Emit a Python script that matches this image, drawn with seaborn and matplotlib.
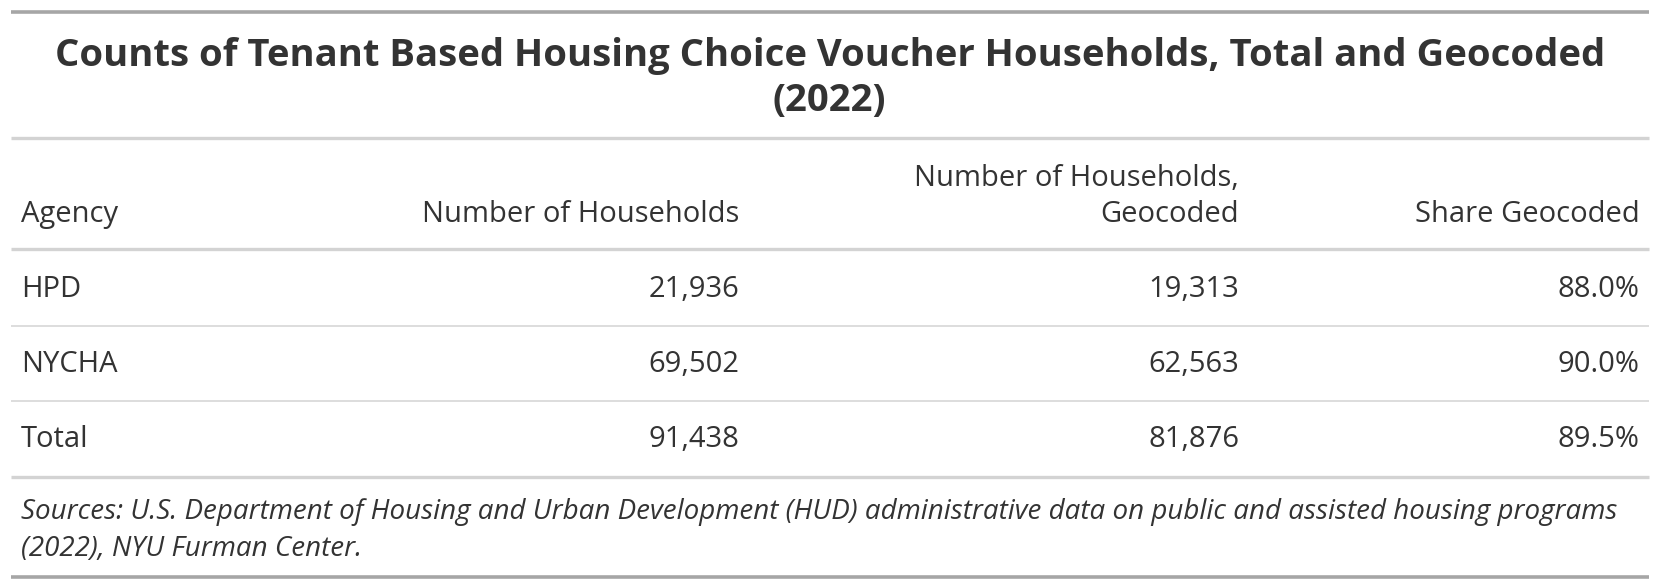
import matplotlib
matplotlib.use("Agg")
import matplotlib.pyplot as plt
import seaborn as sns

# data
agencies = ["HPD", "NYCHA", "Total"]
households = [21936, 69502, 91438]
geocoded = [19313, 62563, 81876]
share = [88.0, 90.0, 89.5]
headers = ["Agency", "Number of Households", "Number of Households,\nGeocoded", "Share Geocoded"]
title = "Counts of Tenant Based Housing Choice Voucher Households, Total and Geocoded\n(2022)"
source = ("Sources: U.S. Department of Housing and Urban Development (HUD) administrative data on public and assisted housing programs\n"
          "(2022), NYU Furman Center.")

sns.set_theme(style="white")
plt.rcParams["font.family"] = ["Open Sans", "DejaVu Sans"]

W, H = 1660, 588
s = 1.059  # layout measured on a 1567px-wide view
fig = plt.figure(figsize=(W / 100, H / 100), dpi=100)
ax = fig.add_axes([0, 0, 1, 1])
ax.set_xlim(0, W / s)
ax.set_ylim(H / s, 0)
ax.axis("off")

txt = "#333333"
x0, x1 = 10, 1557
col_x = [20, 698, 1170, 1548]
col_ha = ["left", "right", "right", "right"]

def hline(y, lw, c):
    ax.plot([x0, x1], [y, y], color=c, lw=lw, solid_capstyle="butt")

hline(11, 2.6, "#a6a6a6")
ax.text((x0 + x1) / 2, 74, title, ha="center", va="center", fontsize=27.5,
        fontweight="bold", color=txt, linespacing=1.25)
hline(130, 2.4, "#d3d3d3")

for x, ha, h in zip(col_x, col_ha, headers):
    ax.text(x, 216, h, ha=ha, va="bottom", fontsize=21, color=txt, linespacing=1.3)
hline(235, 2.4, "#d3d3d3")

row_y = [273, 344, 415]
for i, y in enumerate(row_y):
    vals = [agencies[i], f"{households[i]:,}", f"{geocoded[i]:,}", f"{share[i]:.1f}%"]
    for x, ha, v in zip(col_x, col_ha, vals):
        ax.text(x, y, v, ha=ha, va="center", fontsize=21, color=txt)
    if i < len(row_y) - 1:
        hline(y + 35, 1.1, "#d3d3d3")
hline(450, 2.4, "#d3d3d3")

ax.text(20, 501, source, ha="left", va="center", fontsize=20, style="italic",
        color=txt, linespacing=1.4)
hline(545, 2.6, "#a6a6a6")

fig.savefig("out.png", dpi=100, facecolor="white")
